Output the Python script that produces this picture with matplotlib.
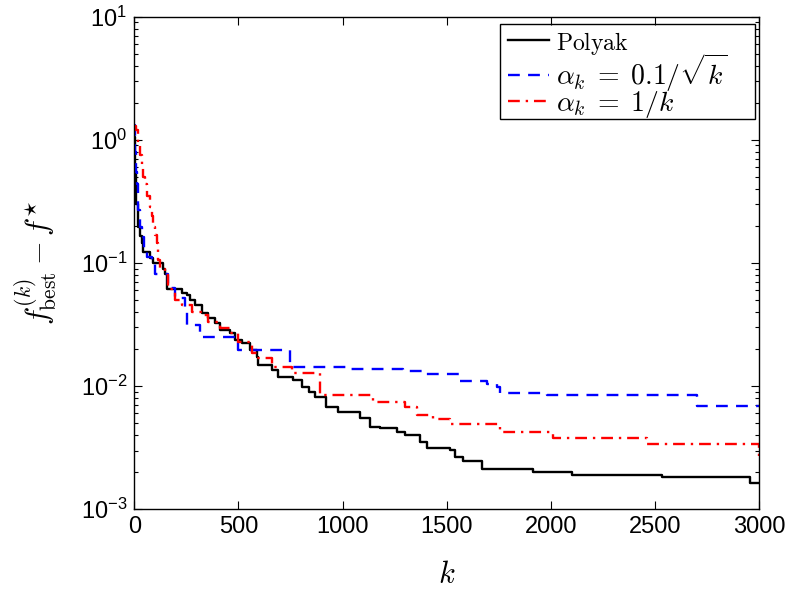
import numpy as np
import matplotlib
matplotlib.use("Agg")
import matplotlib.pyplot as plt
from matplotlib.patches import Rectangle
from matplotlib.ticker import LogLocator, FixedLocator

# iteration breakpoints and f_best - f* values, step curves
k_polyak = [0, 4, 10, 19, 28, 36, 43, 75, 91, 139, 147, 156, 228, 252, 267, 291, 324,
            355, 387, 412, 460, 484, 516, 556, 588, 596, 660, 692, 764, 804, 840, 868,
            920, 980, 1084, 1132, 1180, 1260, 1300, 1372, 1404, 1516, 1540, 1580, 1668,
            1916, 2100, 2533, 2957, 3000]
f_polyak = [1.05, 0.55, 0.30, 0.197, 0.165, 0.144, 0.123, 0.109, 0.099, 0.090, 0.082, 0.062,
            0.057, 0.055, 0.050, 0.0455, 0.039, 0.0355, 0.0323, 0.0285, 0.0268, 0.0237,
            0.0222, 0.0197, 0.0173, 0.0148, 0.0135, 0.0119, 0.0112, 0.0099, 0.0090, 0.0082,
            0.0068, 0.0062, 0.00555, 0.00468, 0.00454, 0.00427, 0.00401, 0.00354, 0.00313,
            0.00303, 0.00267, 0.00248, 0.00211, 0.00202, 0.00190, 0.00184, 0.00163, 0.00163]

k_sqrt = [0, 3, 7, 11, 19, 27, 35, 45, 60, 84, 99, 163, 195, 243, 252, 316, 500, 748,
          1036, 1196, 1292, 1380, 1564, 1692, 1740, 1756, 1980, 2701, 3000]
f_sqrt = [1.31, 0.8, 0.55, 0.44, 0.27, 0.197, 0.163, 0.13, 0.112, 0.099, 0.081, 0.063,
          0.0517, 0.0428, 0.0313, 0.0252, 0.0197, 0.0144, 0.0139, 0.0137, 0.0133, 0.0125,
          0.0110, 0.0104, 0.0099, 0.0088, 0.0084, 0.0069, 0.0069]

k_inv = [0, 10, 19, 28, 36, 44, 51, 63, 75, 83, 91, 100, 108, 115, 123, 147, 163, 195,
         228, 276, 331, 355, 412, 460, 500, 564, 588, 660, 756, 892, 1148, 1300, 1356,
         1436, 1516, 1756, 2012, 2460, 2990, 3000]
f_inv = [1.3, 1.2, 0.935, 0.75, 0.60, 0.50, 0.44, 0.35, 0.286, 0.24, 0.197, 0.17, 0.144,
         0.106, 0.090, 0.080, 0.062, 0.050, 0.0455, 0.040, 0.0378, 0.0333, 0.0294, 0.0268,
         0.0229, 0.0185, 0.0168, 0.0144, 0.0127, 0.0084, 0.00746, 0.00673, 0.00582,
         0.0054, 0.0049, 0.00422, 0.00379, 0.00339, 0.00339, 0.0027]

plt.rcParams["font.family"] = ["Liberation Sans", "DejaVu Sans"]

fig = plt.figure(figsize=(7.89, 5.92), dpi=100)
ax = fig.add_axes([0.1702, 0.1397, 0.962 - 0.1702, 0.972 - 0.1397])

ax.plot(k_polyak, f_polyak, color="black", lw=1.7, drawstyle="steps-post",
        label=r"$\mathrm{Polyak}$")
ax.plot(k_sqrt, f_sqrt, color="blue", lw=1.7, ls=(0, (5, 3.5)), drawstyle="steps-post",
        label=r"$\alpha_k\;=\;0.1/\sqrt{k}$")
ax.plot(k_inv, f_inv, color="red", lw=1.7, ls=(0, (5, 2.5, 1, 2.5)), drawstyle="steps-post",
        label=r"$\alpha_k\;=\;1/k$")

ax.set_yscale("log")
ax.set_xlim(0, 3000)
ax.set_ylim(1e-3, 1e1)
ax.xaxis.set_major_locator(FixedLocator([0, 500, 1000, 1500, 2000, 2500, 3000]))
ax.yaxis.set_major_locator(LogLocator(base=10, numticks=10))
ax.yaxis.set_minor_locator(LogLocator(base=10, subs=np.arange(2, 10), numticks=10))

ax.tick_params(which="both", direction="in", top=True, right=True, labelsize=17, width=0.8)
ax.tick_params(which="major", length=6, pad=5)
ax.tick_params(which="minor", length=3)
for s in ax.spines.values():
    s.set_linewidth(1.0)

xl = ax.set_xlabel(r"$k$", fontsize=22, labelpad=16)
yl = ax.set_ylabel(r"$f_{\mathrm{best}}^{(k)} - f^{\star}$", fontsize=22, labelpad=16)
xl.set_math_fontfamily("cm")
yl.set_math_fontfamily("cm")

# legend without its own frame; box drawn separately to get the wider right margin
leg = ax.legend(loc="upper left", bbox_to_anchor=(0.589, 0.984), borderaxespad=0,
                fontsize=20, handlelength=1.5, handletextpad=0.25, labelspacing=-0.2,
                borderpad=0.2, frameon=False)
for t in leg.get_texts():
    t.set_math_fontfamily("cm")
leg.get_texts()[0].set_fontsize(17)
ax.add_patch(Rectangle((0.585, 0.792), 0.9936 - 0.585, 0.985 - 0.792, transform=ax.transAxes,
                       facecolor="none", edgecolor="black", lw=1.0, zorder=6))

fig.savefig("out.png", dpi=100)
